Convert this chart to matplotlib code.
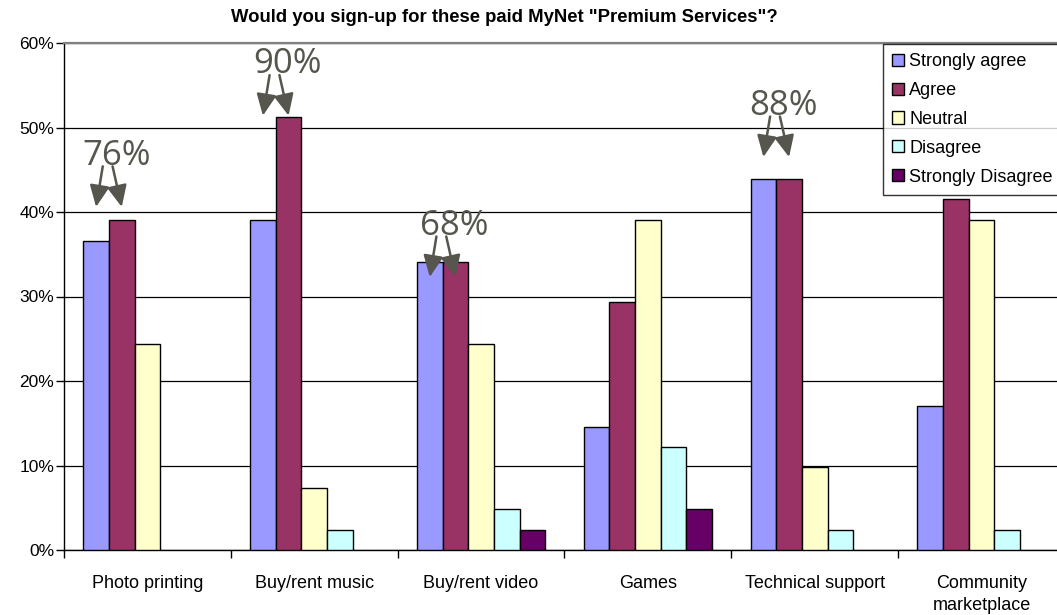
import numpy as np
import matplotlib
matplotlib.use("Agg")
import matplotlib.pyplot as plt
from matplotlib.ticker import FixedLocator, PercentFormatter

plt.rcParams['font.family'] = ['Liberation Sans', 'DejaVu Sans']

# Survey results, share of respondents per answer (%)
services = ["Photo printing", "Buy/rent music", "Buy/rent video", "Games",
            "Technical support", "Community\nmarketplace"]
answers = ["Strongly agree", "Agree", "Neutral", "Disagree", "Strongly Disagree"]
strongly_agree = [36.6, 39.0, 34.1, 14.6, 43.9, 17.1]
agree = [39.0, 51.2, 34.1, 29.3, 43.9, 41.5]
neutral = [24.4, 7.3, 24.4, 39.0, 9.8, 39.0]
disagree = [0.0, 2.4, 4.9, 12.2, 2.4, 2.4]
strongly_disagree = [0.0, 0.0, 2.4, 4.9, 0.0, 0.0]
series = [strongly_agree, agree, neutral, disagree, strongly_disagree]
colors = ["#9999FF", "#993366", "#FFFFCC", "#CCFFFF", "#660066"]

# callouts: service index whose "agree + strongly agree" total gets an arrow label
callout_groups = [0, 1, 2, 4]
callout_dx = [-0.183, -0.158, -0.16, -0.19]
callout_base = [45.6, 56.4, 37.3, 51.5]

fig = plt.figure(figsize=(10.57, 6.15), dpi=100)
ax = fig.add_axes([64 / 1057, 1 - 550 / 615, 1001 / 1057, 507 / 615])

x = np.arange(len(services))
w = 1 / 6.5
for j, (vals, col, name) in enumerate(zip(series, colors, answers)):
    h = np.array(vals, dtype=float)
    h[h == 0] = np.nan  # empty answers draw no bar
    ax.bar(x + (j - 2) * w, h, width=w, color=col, edgecolor="black",
           linewidth=1.0, label=name, zorder=3)

ax.set_xlim(-0.5, len(services) - 0.5)
ax.set_ylim(0, 60)
ax.yaxis.set_major_locator(FixedLocator(np.arange(0, 61, 10)))
ax.yaxis.set_major_formatter(PercentFormatter(decimals=0))
ax.grid(axis="y", color="black", linewidth=0.9, zorder=0)

ax.xaxis.set_major_locator(FixedLocator(np.arange(-0.5, len(services), 1)))
ax.xaxis.set_minor_locator(FixedLocator(x))
ax.set_xticklabels([], minor=False)
ax.set_xticklabels(services, minor=True, linespacing=1.35)
ax.tick_params(axis="x", which="major", direction="out", length=6, width=1)
ax.tick_params(axis="x", which="minor", length=0, pad=18, labelsize=13)
ax.tick_params(axis="y", direction="out", length=6, width=1, pad=1, labelsize=12.5)

ax.spines["right"].set_visible(False)
ax.spines["top"].set_color("#808080")
ax.spines["top"].set_linewidth(1.6)
ax.spines["left"].set_linewidth(1.0)
ax.spines["bottom"].set_linewidth(1.0)

# arrow callouts with the combined positive share
grey = "#56564e"
for g, dx, by in zip(callout_groups, callout_dx, callout_base):
    total = strongly_agree[g] + agree[g]
    ax.text(x[g] + dx, by, "{:.0f}%".format(total), ha="center", va="baseline",
            fontsize=25, color=grey, family="Open Sans", zorder=5)
    tips = [x[g] - 2 * w, x[g] - w]
    starts = [tips[0] + 0.04, tips[1] - 0.055]
    for sx, tip in zip(starts, tips):
        ax.annotate("", xy=(tip, by - 5.0), xytext=(sx, by - 0.2),
                    arrowprops=dict(arrowstyle="-|>,head_length=0.65,head_width=0.3",
                                    mutation_scale=20, color=grey, lw=1.8,
                                    shrinkA=0, shrinkB=0), zorder=5)

leg = fig.legend(loc="upper left", bbox_to_anchor=(883 / 1057, 1 - 44 / 615),
                 fontsize=13, frameon=True, fancybox=False, borderpad=0.5,
                 labelspacing=0.66, handlelength=0.65, handleheight=0.65,
                 handletextpad=0.3, borderaxespad=0)
leg.get_frame().set_edgecolor("black")
leg.get_frame().set_linewidth(1.0)

fig.text(504.5 / 1057, 1 - 17 / 615,
         'Would you sign-up for these paid MyNet "Premium Services"?',
         ha="center", va="center", fontsize=13.3, fontweight="bold")

fig.savefig("out.png", dpi=100)
